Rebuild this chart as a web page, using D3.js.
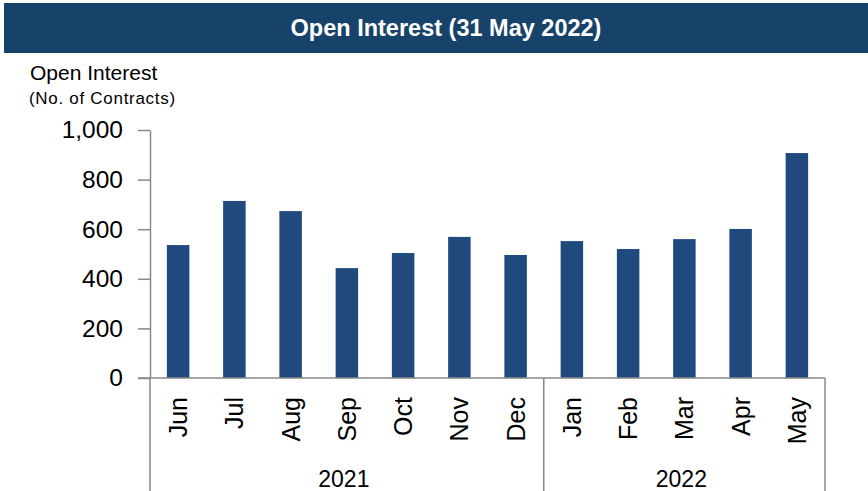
<!DOCTYPE html>
<html>
<head>
<meta charset="utf-8">
<script src="https://cdn.jsdelivr.net/npm/d3@7"></script>
<style>
  body { margin: 0; background: #fff; }
  svg { display: block; font-family: "Liberation Sans", Arial, sans-serif; }
</style>
</head>
<body>
<div id="chart"></div>
<script>
// data
const months = ["Jun", "Jul", "Aug", "Sep", "Oct", "Nov", "Dec", "Jan", "Feb", "Mar", "Apr", "May"]
const years = ["2021", "2021", "2021", "2021", "2021", "2021", "2021", "2022", "2022", "2022", "2022", "2022"]
const openInterest = [536, 714, 673, 443, 504, 569, 496, 552, 520, 560, 601, 907]
const yTicks = [0, 200, 400, 600, 800, 1000]

const width = 868
const height = 491
const margin = {top: 130, right: 43, bottom: 113, left: 150}
const innerWidth = width - margin.left - margin.right
const innerHeight = 378 - margin.top

const svg = d3.select("#chart").append("svg")
              .attr("width", width)
              .attr("height", height)

// header band
svg.append("rect")
   .attr("x", 4).attr("y", 3)
   .attr("width", width - 4).attr("height", 50)
   .attr("fill", "#17426a")
svg.append("text")
   .attr("x", 446).attr("y", 36)
   .attr("text-anchor", "middle")
   .attr("fill", "#fff")
   .style("font-weight", "bold")
   .style("font-size", "23.5px")
   .text("Open Interest (31 May 2022)")

// axis titles
svg.append("text")
   .attr("x", 30).attr("y", 80)
   .style("font-size", "21px")
   .attr("fill", "#000")
   .text("Open Interest")
svg.append("text")
   .attr("x", 29).attr("y", 104)
   .style("font-size", "17px")
   .style("letter-spacing", "0.7px")
   .attr("fill", "#000")
   .text("(No. of Contracts)")

const chart = svg.append("g")
                 .attr("transform", `translate(${margin.left}, ${margin.top})`)

// scales
const xScale = d3.scaleBand()
                 .domain(d3.range(months.length))
                 .range([0, innerWidth])
                 .paddingInner(0.6)
                 .paddingOuter(0.3)

const yScale = d3.scaleLinear()
                 .domain([0, 1000])
                 .range([innerHeight, 0])

// bars
chart.selectAll(".bar")
     .data(openInterest)
     .join("rect")
     .attr("class", "bar")
     .attr("x", (d, i) => xScale(i))
     .attr("y", d => yScale(d))
     .attr("width", xScale.bandwidth())
     .attr("height", d => innerHeight - yScale(d))
     .attr("fill", "#20497d")

// y axis
const yAxis = d3.axisLeft(yScale)
                .tickValues(yTicks)
                .tickFormat(d3.format(","))
                .tickSize(12)
                .tickSizeOuter(0)
                .tickPadding(15)
chart.append("g")
     .call(yAxis)
     .call(g => g.selectAll("line, path").attr("stroke", "#888").attr("stroke-width", 1.5))
     .call(g => g.selectAll("text").style("font-size", "24.5px").attr("fill", "#000").style("font-family", "'Liberation Sans', Arial, sans-serif"))

// x axis baseline
chart.append("line")
     .attr("x1", -12).attr("x2", innerWidth)
     .attr("y1", innerHeight).attr("y2", innerHeight)
     .attr("stroke", "#888").attr("stroke-width", 1.5)

// month labels
const step = xScale.step()
chart.selectAll(".month")
     .data(months)
     .join("text")
     .attr("class", "month")
     .attr("transform", (d, i) => `translate(${xScale(i) + xScale.bandwidth() / 2 + 9}, ${innerHeight + 19}) rotate(-90)`)
     .attr("text-anchor", "end")
     .style("font-size", "25px")
     .attr("fill", "#000")
     .text(d => d)

// year groups
const groups = d3.groups(d3.range(months.length), i => years[i])
const groupEdge = i => xScale(i) - (step - xScale.bandwidth()) / 2
const bounds = [0]
groups.forEach(([y, idx]) => bounds.push(groupEdge(idx[idx.length - 1]) + step))
bounds[bounds.length - 1] = innerWidth

chart.selectAll(".sep")
     .data(bounds)
     .join("line")
     .attr("class", "sep")
     .attr("x1", d => d).attr("x2", d => d)
     .attr("y1", innerHeight).attr("y2", height - margin.top)
     .attr("stroke", "#888").attr("stroke-width", 1.5)

chart.selectAll(".year")
     .data(groups)
     .join("text")
     .attr("class", "year")
     .attr("x", (d, i) => (bounds[i] + bounds[i + 1]) / 2 - 3)
     .attr("y", innerHeight + 109)
     .attr("text-anchor", "middle")
     .style("font-size", "23px")
     .attr("fill", "#000")
     .text(d => d[0])
</script>
</body>
</html>
